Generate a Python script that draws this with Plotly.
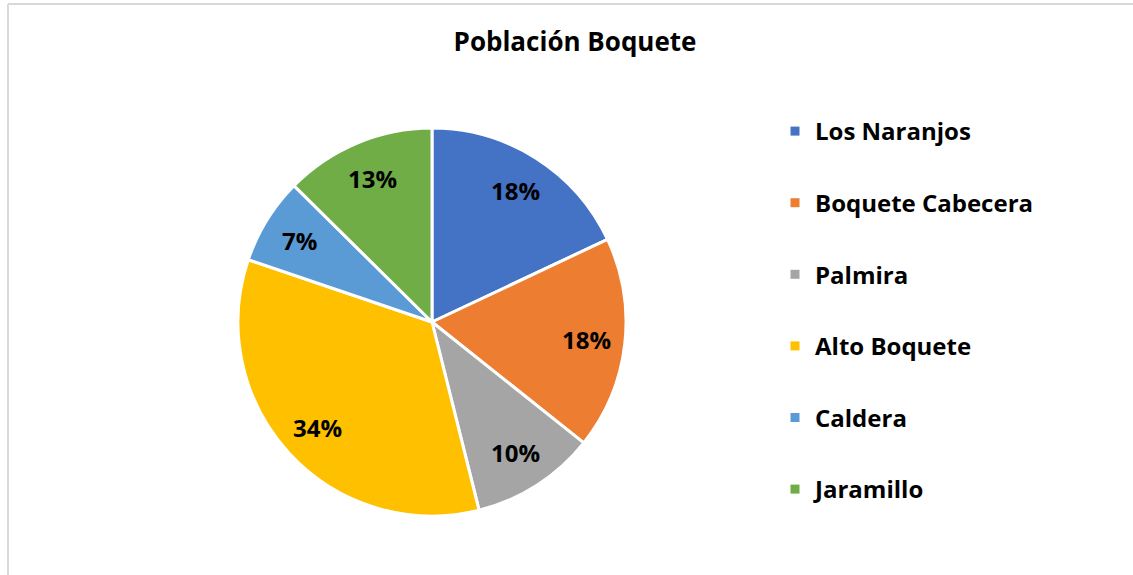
import math
import plotly.graph_objects as go

categories = ["Los Naranjos", "Boquete Cabecera", "Palmira", "Alto Boquete", "Caldera", "Jaramillo"]
values = [18.0, 17.7, 10.4, 34.1, 7.2, 12.6]
colors = ["#4472C4", "#ED7D31", "#A5A5A5", "#FFC000", "#5B9BD5", "#70AD47"]

W, H = 1133, 575
FONT = "Open Sans"

# pie geometry (pixels)
CX, CY, R = 432, 322, 194
dom_x = [(CX - R) / W, (CX + R) / W]
dom_y = [1 - (CY + R) / H, 1 - (CY - R) / H]

fig = go.Figure()

fig.add_trace(go.Pie(
    labels=categories,
    values=values,
    sort=False,
    direction="clockwise",
    rotation=0,
    marker=dict(colors=colors, line=dict(color="white", width=3)),
    textinfo="none",
    showlegend=False,
    hoverinfo="label+percent",
    domain=dict(x=dom_x, y=dom_y),
))

# percentage labels, placed from the cumulative share of each slice
total = sum(values)
cum = 0.0
annotations = []
for v in values:
    mid = (cum + v / 2) / total * 2 * math.pi
    cum += v
    frac = 0.8
    ax = (CX + R * frac * math.sin(mid)) / W
    ay = 1 - (CY - R * frac * math.cos(mid)) / H
    annotations.append(dict(
        x=ax, y=ay, xref="paper", yref="paper", showarrow=False,
        text="<b>%d%%</b>" % round(v / total * 100),
        font=dict(family=FONT, size=24, color="black"),
        xanchor="center", yanchor="middle",
    ))

# legend entries (one per category, separated by group gaps)
for name, col in zip(categories, colors):
    fig.add_trace(go.Scatter(
        x=[None], y=[None], mode="markers", name=name,
        marker=dict(symbol="square", size=9, color=col),
        legendgroup=name, showlegend=True, hoverinfo="skip",
    ))

fig.update_layout(
    width=W, height=H,
    margin=dict(l=0, r=0, t=0, b=0),
    paper_bgcolor="white",
    plot_bgcolor="white",
    xaxis=dict(visible=False),
    yaxis=dict(visible=False),
    title=dict(text="<b>Población Boquete</b>", x=575 / W, xanchor="center",
               y=1 - 42 / H, yanchor="middle",
               font=dict(family=FONT, size=26, color="black")),
    legend=dict(x=775 / W, xanchor="left", y=1 - 109 / H, yanchor="top",
                font=dict(family=FONT, size=24, color="black", weight="bold"),
                tracegroupgap=37.4, itemwidth=30, bgcolor="rgba(0,0,0,0)"),
    annotations=annotations,
    shapes=[
        dict(type="line", xref="paper", yref="paper", x0=8 / W, x1=1, y0=1 - 4 / H, y1=1 - 4 / H,
             line=dict(color="#D9D9D9", width=2)),
        dict(type="line", xref="paper", yref="paper", x0=8 / W, x1=8 / W, y0=0, y1=1 - 4 / H,
             line=dict(color="#D9D9D9", width=2)),
    ],
)

fig.write_html("out.html", config={"displayModeBar": False},
               post_script="document.body.style.margin='0';document.body.style.overflow='hidden';")
